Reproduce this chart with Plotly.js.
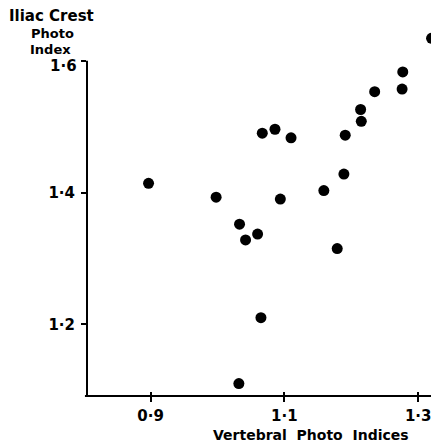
<!DOCTYPE html>
<html>
<head>
<meta charset="utf-8">
<script src="https://cdn.plot.ly/plotly-3.0.1.min.js"></script>
<style>html,body{margin:0;padding:0;background:#fff;}#chart{width:431px;height:443px;}</style>
</head>
<body>
<div id="chart"></div>
<script>
// Vertebral photo index (x) vs iliac crest photo index (y)
const vertebralIndex = [0.897, 0.998, 1.033, 1.042, 1.060, 1.067, 1.086, 1.110, 1.094, 1.065, 1.032,
                        1.159, 1.179, 1.189, 1.191, 1.215, 1.214, 1.235, 1.276, 1.277, 1.320];
const iliacIndex     = [1.414, 1.393, 1.352, 1.328, 1.337, 1.490, 1.496, 1.483, 1.390, 1.210, 1.110,
                        1.403, 1.315, 1.428, 1.487, 1.508, 1.526, 1.553, 1.557, 1.583, 1.634];
const xTickVals = [0.9, 1.1, 1.3];
const xTickText = ["0·9", "1·1", "1·3"];
const yTickVals = [1.2, 1.4, 1.6];
const yTickText = ["1·2", "1·4", "1·6"];

const FONT = "DejaVu Sans, Arial, sans-serif";
const xRange = [0.805, 1.3192];
const yRange = [1.0912, 1.6618];
const PLOT_H = 443 - 20 - 47;

const trace = {
  x: vertebralIndex, y: iliacIndex, type: "scatter", mode: "markers",
  marker: {color: "#000", size: 11, line: {width: 0}},
  hoverinfo: "skip", showlegend: false
};

// the top y label sits a little below its tick in the original
const yTickTextShown = yTickText.map((t, i) => (i === yTickText.length - 1 ? "" : t));

const layout = {
  width: 431, height: 443,
  margin: {l: 87, r: 0, t: 20, b: 47},
  paper_bgcolor: "#fff", plot_bgcolor: "#fff",
  showlegend: false,
  font: {family: FONT, color: "#000", size: 15, weight: "bold"},
  xaxis: {
    range: xRange, showgrid: false, zeroline: false, showline: false,
    anchor: "free", position: 5 / PLOT_H,
    ticks: "outside", ticklen: 10, tickwidth: 2, tickcolor: "#000",
    tickvals: xTickVals, ticktext: xTickText,
    tickfont: {family: FONT, size: 15, weight: "bold", color: "#000"},
    ticklabelstandoff: 1, ticklabeloverflow: "allow"
  },
  yaxis: {
    range: yRange, showgrid: false, zeroline: false, showline: false,
    ticks: "outside", ticklen: 5, tickwidth: 2, tickcolor: "#000",
    tickvals: yTickVals, ticktext: yTickTextShown,
    tickfont: {family: FONT, size: 15, weight: "bold", color: "#000"},
    ticklabelstandoff: 3
  },
  shapes: [
    {type: "line", xref: "paper", yref: "y", x0: 0, x1: 0, y0: yRange[0], y1: 1.6,
     line: {color: "#000", width: 2}, layer: "above"},
    {type: "line", xref: "paper", yref: "paper", x0: -0.006, x1: 1, y0: 0, y1: 0,
     line: {color: "#000", width: 2}, layer: "above"}
  ],
  annotations: [
    {text: yTickText[2], xref: "paper", yref: "y", x: 0, y: yTickVals[2],
     xanchor: "right", yanchor: "middle", xshift: -8, yshift: -5, showarrow: false,
     font: {family: FONT, size: 15, weight: "bold", color: "#000"}},
    {text: "Vertebral  Photo  Indices", xref: "paper", yref: "paper",
     x: 0.651, y: -0.1025, xanchor: "center", yanchor: "middle", showarrow: false,
     font: {family: FONT, size: 14, weight: "bold", color: "#000"}},
    {text: "Iliac Crest", xref: "paper", yref: "paper",
     x: -0.2326, y: 1.0106, xanchor: "left", yanchor: "middle", showarrow: false,
     font: {family: FONT, size: 15, weight: "bold", color: "#000"}},
    {text: "Photo", xref: "paper", yref: "paper",
     x: -0.1686, y: 0.964, xanchor: "left", yanchor: "middle", showarrow: false,
     font: {family: FONT, size: 13, weight: "bold", color: "#000"}},
    {text: "Index", xref: "paper", yref: "paper",
     x: -0.1715, y: 0.921, xanchor: "left", yanchor: "middle", showarrow: false,
     font: {family: FONT, size: 13, weight: "bold", color: "#000"}}
  ]
};

Plotly.newPlot("chart", [trace], layout, {staticPlot: true, displayModeBar: false});
</script>
</body>
</html>
